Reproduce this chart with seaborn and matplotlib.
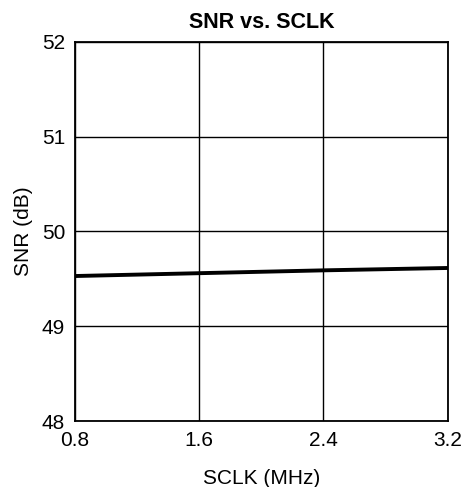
import matplotlib
matplotlib.use("Agg")
import matplotlib.pyplot as plt
import seaborn as sns
import pandas as pd

sclk_mhz = [0.8, 1.6, 2.4, 3.2]
snr_db = [49.53, 49.56, 49.59, 49.615]
x_ticks = [0.8, 1.6, 2.4, 3.2]
y_ticks = [48, 49, 50, 51, 52]

sns.set_theme(style="white")
plt.rcParams['font.family'] = ['Liberation Sans', 'DejaVu Sans']

df = pd.DataFrame({"SCLK": sclk_mhz, "SNR": snr_db})

fig = plt.figure(figsize=(4.65, 4.87), dpi=100)
ax = fig.add_axes([0.161, 0.1355, 0.802, 0.7783])
sns.lineplot(data=df, x="SCLK", y="SNR", ax=ax, color="black", linewidth=2.8)

ax.set_xlim(0.8, 3.2)
ax.set_ylim(48, 52)
ax.set_xticks(x_ticks)
ax.set_xticklabels([f"{v:.1f}" for v in x_ticks])
ax.set_yticks(y_ticks)
ax.grid(True, color="black", linewidth=1.0)
for s in ax.spines.values():
    s.set_color("black")
    s.set_linewidth(1.3)
fs = 15
ax.tick_params(axis="y", length=0, labelsize=fs, colors="black", pad=7)
ax.tick_params(axis="x", length=0, labelsize=fs, colors="black", pad=7)
ax.set_xlabel("SCLK (MHz)", fontsize=fs, color="black", labelpad=14)
ax.set_ylabel("SNR (dB)", fontsize=fs, color="black", labelpad=6)
ax.set_title("SNR vs. SCLK", fontsize=15.5, fontweight="bold", color="black", pad=10)

fig.savefig("out.png", dpi=100)
